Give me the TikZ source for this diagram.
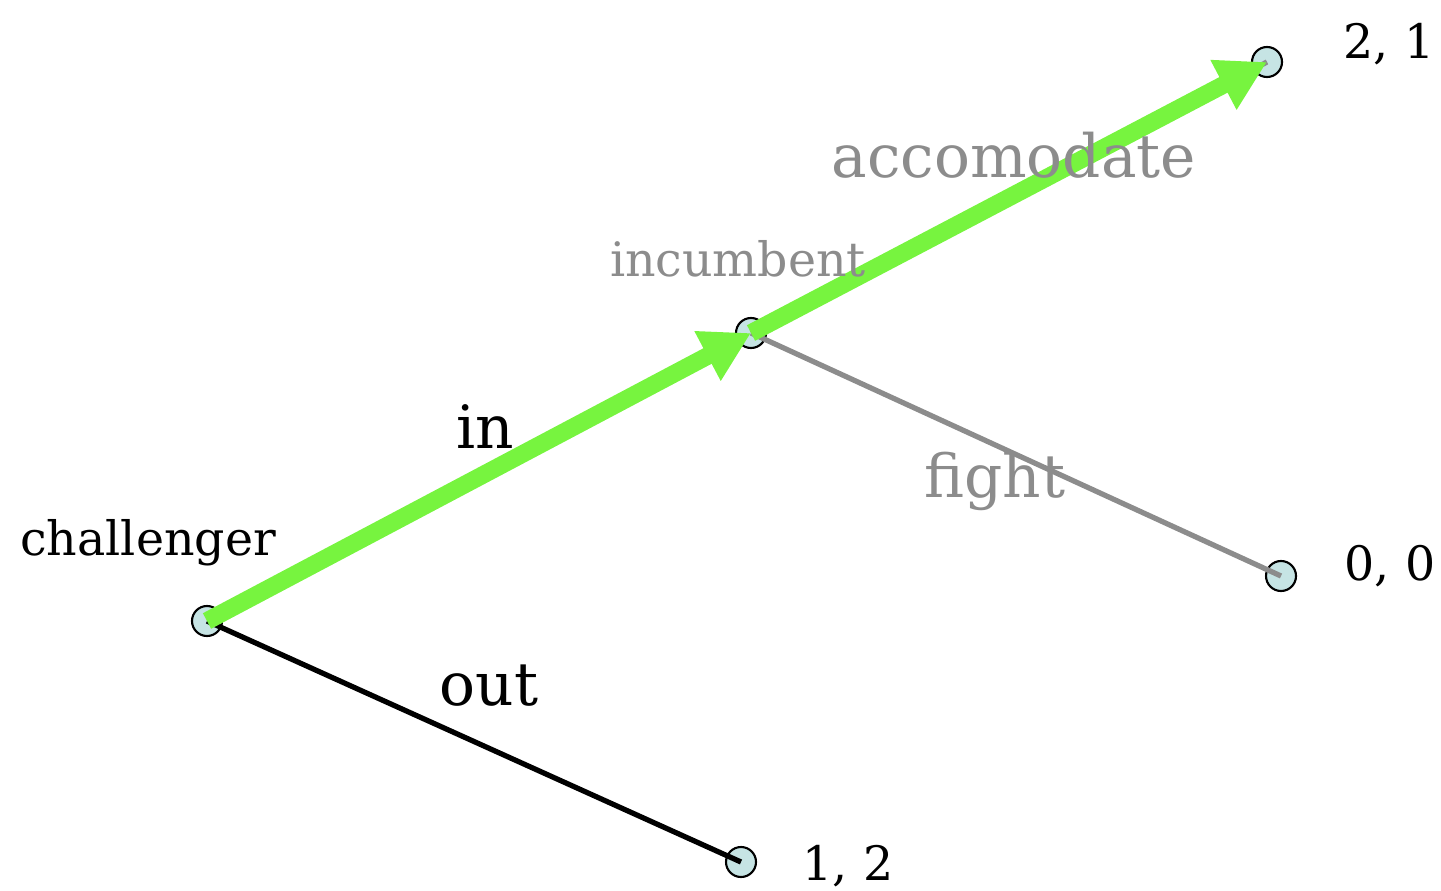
\documentclass[tikz,border=0pt]{standalone}
\usepackage{fontspec}
\setmainfont{DejaVu Serif}
\usetikzlibrary{arrows.meta}
\definecolor{leafcyan}{HTML}{C6E4E4}
\definecolor{bestgreen}{HTML}{77F43F}
\definecolor{offgray}{HTML}{8C8C8C}
\tikzstyle{every node}=[inner sep=0pt]
\tikzstyle{gamenode}=[circle, draw=black, line width=1.2pt, fill=leafcyan, minimum size=0.6cm]
\tikzstyle{player}=[font=\fontsize{27}{32}\selectfont]
\tikzstyle{move}=[font=\fontsize{34}{40}\selectfont]
\tikzstyle{payoff}=[font=\fontsize{27}{32}\selectfont]
\tikzstyle{offpath}=[offgray, line width=3pt]
\tikzstyle{onpath}=[bestgreen, line width=10pt, -{Triangle[length=28pt,width=30pt]}]

\begin{document}
\begin{tikzpicture}
    \useasboundingbox (0,0) rectangle (28.82,17.8);
    % decision and terminal nodes
    \node [gamenode] (challenger) at (4.14,5.38) {};
    \node [gamenode] (incumbent) at (15.02,11.14) {};
    \node [gamenode] (accomodated) at (25.34,16.56) {};
    \node [gamenode] (fought) at (25.62,6.28) {};
    \node [gamenode] (stayedout) at (14.82,0.56) {};
    % edges
    \draw [black, line width=3pt] (challenger.center) -- (stayedout.center);
    \draw [offpath] (incumbent.center) -- (fought.center);
    \draw [offpath] (incumbent.center) -- (accomodated.center);
    \draw [onpath] (challenger.center) -- (incumbent.center);
    \draw [onpath] (incumbent.center) -- (accomodated.center);
    % labels
    \node [player] (chname) at (2.96,6.94) {challenger};
    \node [player, text=offgray] (incname) at (14.76,12.62) {incumbent};
    \node [move] (inlabel) at (9.7,9.26) {in};
    \node [move] (outlabel) at (9.78,4.08) {out};
    \node [move, text=offgray] (acclabel) at (20.28,14.7) {accomodate};
    \node [move, text=offgray] (fightlabel) at (19.9,8.18) {fight};
    \node [payoff] (pay21) at (27.78,16.92) {2, 1};
    \node [payoff] (pay00) at (27.8,6.48) {0, 0};
    \node [payoff] (pay12) at (16.96,0.48) {1, 2};
\end{tikzpicture}
\end{document}
